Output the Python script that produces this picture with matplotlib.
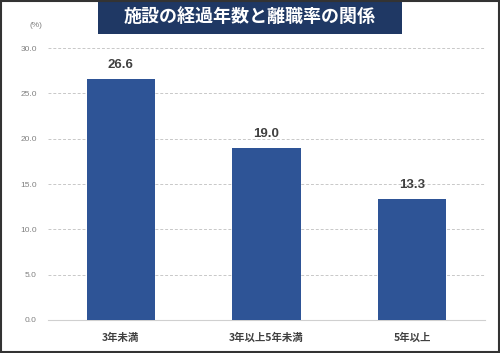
import matplotlib.pyplot as plt
from matplotlib.patches import Rectangle

plt.rcParams['font.family'] = ['Noto Sans CJK JP', 'DejaVu Sans']

categories = ['3年未満', '3年以上5年未満', '5年以上']
rates = [26.6, 19.0, 13.3]
yticks = [0.0, 5.0, 10.0, 15.0, 20.0, 25.0, 30.0]
title = '施設の経過年数と離職率の関係'

fig = plt.figure(figsize=(5, 3.53), dpi=100, facecolor='white')
ax = fig.add_axes([0.096, 0.0935, 0.874, 0.7705])

x = range(len(categories))
ax.bar(x, rates, width=0.47, color='#2e5496', zorder=3)
for xi, v in zip(x, rates):
    ax.text(xi, v + 0.9, f'{v:.1f}', ha='center', va='bottom', family='Liberation Sans',
            fontsize=9.5, fontweight='bold', color='#404040')

ax.set_xlim(-0.5, 2.5)
ax.set_ylim(0, 30)
ax.set_yticks(yticks)
ax.set_yticklabels([f'{t:.1f}' for t in yticks], fontsize=6, color='#808080',
                   family='Liberation Sans')
ax.set_xticks(list(x))
ax.set_xticklabels(categories, fontsize=7.5, color='#404040', fontweight='bold')
ax.tick_params(axis='both', length=0, pad=8)
ax.tick_params(axis='x', pad=9)
ax.grid(axis='y', linestyle=(0, (3, 2)), color='#c8c8c8', linewidth=0.7, zorder=0)
for s in ['top', 'right', 'left']:
    ax.spines[s].set_visible(False)
ax.spines['bottom'].set_color('#d0d0d0')
ax.spines['bottom'].set_linewidth(0.8)

fig.text(0.06, 0.928, '(%)', fontsize=6, color='#808080', ha='left', va='center',
         family='Liberation Sans')

# title box
fig.patches.append(Rectangle((0.196, 0.904), 0.608, 0.096, transform=fig.transFigure,
                             facecolor='#1f3864', edgecolor='none', zorder=5))
fig.text(0.5, 0.952, title, ha='center', va='center', fontsize=13,
         fontweight='bold', color='white', zorder=6)

# outer border
fig.patches.append(Rectangle((0.002, 0.003), 0.996, 0.994, transform=fig.transFigure,
                             facecolor='none', edgecolor='#333333', linewidth=1.5, zorder=7))

fig.savefig('out.png', dpi=100)
